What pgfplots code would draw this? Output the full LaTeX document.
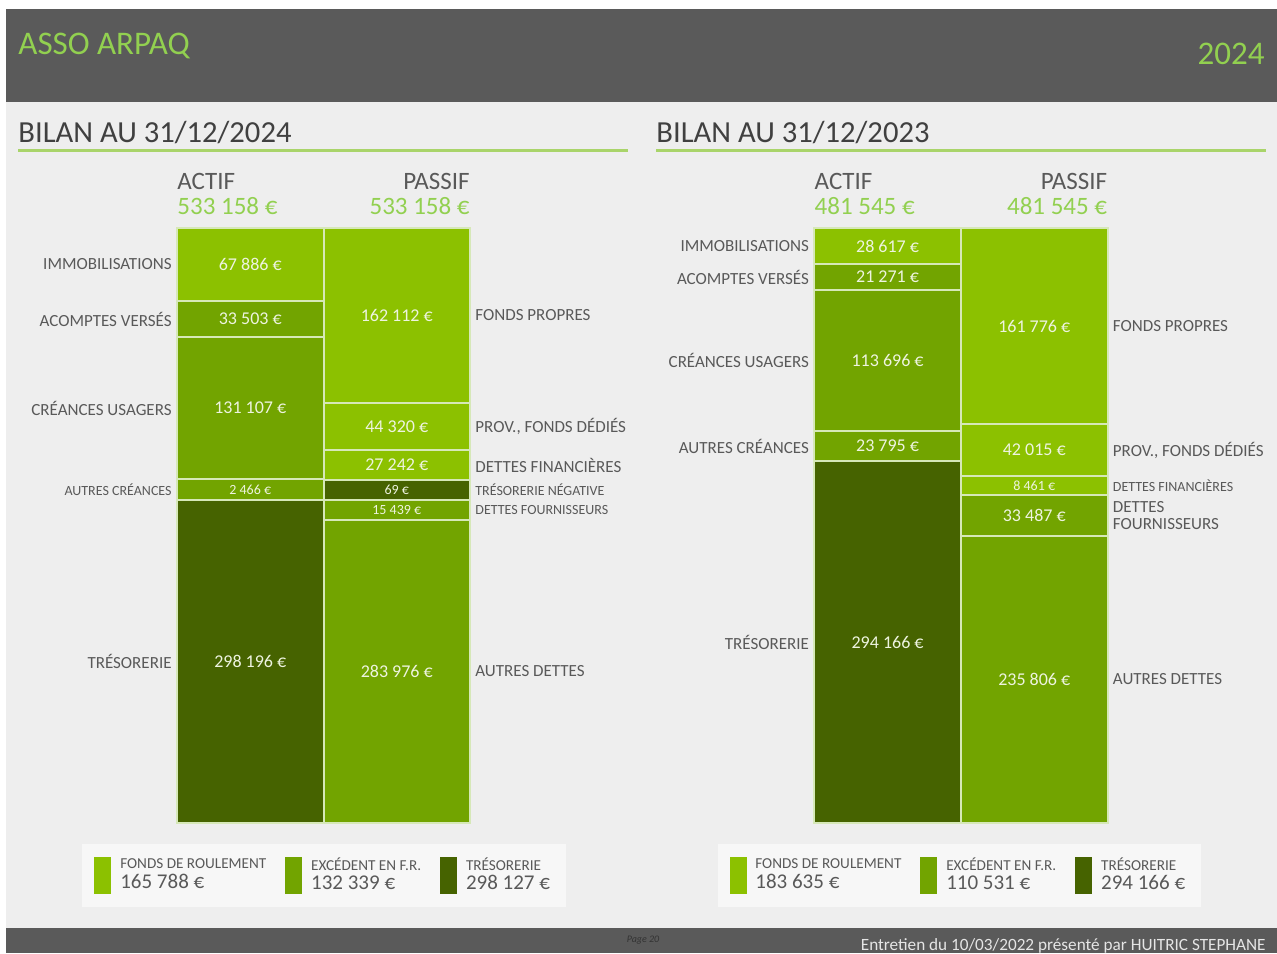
\documentclass[border=0pt]{standalone}
\usepackage{pgfplots}
\pgfplotsset{compat=1.18}
\usepackage{fontspec}
\setmainfont{Carlito}

\definecolor{vertclair}{HTML}{8CC100}
\definecolor{vertmoyen}{HTML}{72A400}
\definecolor{vertfonce}{HTML}{466300}
\definecolor{bandeau}{HTML}{5A5A5A}
\definecolor{fond}{HTML}{EEEEEE}
\definecolor{texte}{HTML}{595959}
\definecolor{titre}{HTML}{404040}
\definecolor{vertlogo}{HTML}{92D050}
\definecolor{vertligne}{HTML}{A9D46A}
\definecolor{trait}{HTML}{D6E8B8}
\definecolor{chiffre}{HTML}{EEF4E0}
\definecolor{cadre}{HTML}{F7F7F7}

\newcommand{\fs}[1]{\fontsize{#1}{#1}\selectfont}

% hauteurs = hauteurs dessinees dans l'original (les petits postes ont une hauteur minimale)
\pgfplotsset{
  colonne/.style={
    scale only axis, width=73.25pt, height=297.5pt,
    ybar stacked, bar width=1,
    xmin=-0.5, xmax=0.5, ymin=0, ymax=595, enlargelimits=false,
    xtick=\empty, axis line style={draw=none}, major tick length=0pt,
    clip=false,
    yticklabel style={font=\fs{8.5}, text=texte, inner sep=0pt},
    yticklabel shift=2.5pt,
    point meta=explicit symbolic,
    nodes near coords,
    every node near coord/.append style={font=\fs{9}, text=chiffre, anchor=center},
    title style={font=\fs{12.5}, text=texte, inner sep=0pt, yshift=0.5pt},
  },
  actif/.style={
    yticklabel style={anchor=east, align=right},
    title style={at={(0,1)}, anchor=south west, align=left},
  },
  passif/.style={
    ytick pos=right, yticklabel pos=right,
    yticklabel style={anchor=west, align=left},
    title style={at={(1,1)}, anchor=south east, align=right},
  },
  resume/.style={
    legend style={at={(#1,-0.034)}, anchor=north west, fill=cadre, draw=none,
      legend columns=3, inner xsep=6pt, inner ysep=5pt,
      /tikz/every odd column/.append style={column sep=2.5pt},
      /tikz/every even column/.append style={column sep=7.5pt},
      cells={align=left, anchor=west}, font=\fs{7.6}, text=texte},
  },
  seg/.style={draw=trait, line width=1pt, fill=#1},
  petit/.style={every node near coord/.append style={font=\fs{7}}},
}

\begin{document}
\begin{tikzpicture}
\begin{scope}[x=0.5pt, y=-0.5pt]
\useasboundingbox (0,0) rectangle (1277,953);
\fill[white] (0,0) rectangle (1277,953);
\fill[fond] (6,102) rectangle (1277,928);
\fill[bandeau] (6,9) rectangle (1277,102);
\fill[bandeau] (6,928) rectangle (1277,953);
\node[anchor=west, inner sep=0pt, text=vertlogo, font=\fs{16.5}] at (18,46) {ASSO ARPAQ};
\node[anchor=east, inner sep=0pt, text=vertlogo, font=\fs{16.5}] at (1265,54) {2024};
\node[anchor=west, inner sep=0pt, text=titre, font=\fs{15.3}] at (18,133) {BILAN AU 31/12/2024};
\node[anchor=west, inner sep=0pt, text=titre, font=\fs{15.3}] at (656,133) {BILAN AU 31/12/2023};
\draw[vertligne, line width=1.5pt] (18,150) -- (628,150);
\draw[vertligne, line width=1.5pt] (656,150) -- (1266,150);
\node[text=black!80, font=\itshape\fs{5}] at (643,940) {Page 20};
\node[anchor=east, inner sep=0pt, text=black!10, font=\fs{8.6}] at (1266,946)
  {Entretien du 10/03/2022 présenté par HUITRIC STEPHANE};
\end{scope}

% ---- bilan 2024, actif
\begin{axis}[colonne, actif, resume=-0.648, at={(88.5pt,-114pt)}, anchor=north west,
  ytick={161.5,333.5,415,504,558.5},
  yticklabels={TRÉSORERIE,{\fs{7}AUTRES CRÉANCES},CRÉANCES USAGERS,ACOMPTES VERSÉS,IMMOBILISATIONS},
  title={ACTIF\\\textcolor{vertlogo}{533 158 €}}]
  \addlegendimage{legend image code/.code={\fill[vertclair] (0pt,-9pt) rectangle (8pt,9pt);}}
  \addlegendentry{FONDS DE ROULEMENT\\[2pt]{\fs{10.5}165 788 €}}
  \addlegendimage{legend image code/.code={\fill[vertmoyen] (0pt,-9pt) rectangle (8pt,9pt);}}
  \addlegendentry{EXCÉDENT EN F.R.\\[2pt]{\fs{10.5}132 339 €}}
  \addlegendimage{legend image code/.code={\fill[vertfonce] (0pt,-9pt) rectangle (8pt,9pt);}}
  \addlegendentry{TRÉSORERIE\\[2pt]{\fs{10.5}298 127 €}}
  \addplot[seg=vertfonce] coordinates {(0,323) [298 196 €]};
  \addplot[seg=vertmoyen, petit] coordinates {(0,21) [2 466 €]};
  \addplot[seg=vertmoyen] coordinates {(0,142) [131 107 €]};
  \addplot[seg=vertmoyen] coordinates {(0,36) [33 503 €]};
  \addplot[seg=vertclair] coordinates {(0,73) [67 886 €]};
\end{axis}

% ---- bilan 2024, passif
\begin{axis}[colonne, passif, at={(161.75pt,-114pt)}, anchor=north west,
  ytick={151.5,313,333,358,396.5,507.5},
  yticklabels={AUTRES DETTES,{\fs{7}DETTES FOURNISSEURS},{\fs{7}TRÉSORERIE NÉGATIVE},DETTES FINANCIÈRES,{PROV., FONDS DÉDIÉS},FONDS PROPRES},
  title={PASSIF\\\textcolor{vertlogo}{533 158 €}}]
  \addplot[seg=vertmoyen] coordinates {(0,303) [283 976 €]};
  \addplot[seg=vertmoyen, petit] coordinates {(0,20) [15 439 €]};
  \addplot[seg=vertfonce, petit] coordinates {(0,20) [69 €]};
  \addplot[seg=vertclair] coordinates {(0,30) [27 242 €]};
  \addplot[seg=vertclair] coordinates {(0,47) [44 320 €]};
  \addplot[seg=vertclair] coordinates {(0,175) [162 112 €]};
\end{axis}

% ---- bilan 2023, actif
\begin{axis}[colonne, actif, resume=-0.663, at={(407.15pt,-114pt)}, anchor=north west,
  ytick={181,377,462.5,546,577},
  yticklabels={TRÉSORERIE,AUTRES CRÉANCES,CRÉANCES USAGERS,ACOMPTES VERSÉS,IMMOBILISATIONS},
  title={ACTIF\\\textcolor{vertlogo}{481 545 €}}]
  \addlegendimage{legend image code/.code={\fill[vertclair] (0pt,-9pt) rectangle (8pt,9pt);}}
  \addlegendentry{FONDS DE ROULEMENT\\[2pt]{\fs{10.5}183 635 €}}
  \addlegendimage{legend image code/.code={\fill[vertmoyen] (0pt,-9pt) rectangle (8pt,9pt);}}
  \addlegendentry{EXCÉDENT EN F.R.\\[2pt]{\fs{10.5}110 531 €}}
  \addlegendimage{legend image code/.code={\fill[vertfonce] (0pt,-9pt) rectangle (8pt,9pt);}}
  \addlegendentry{TRÉSORERIE\\[2pt]{\fs{10.5}294 166 €}}
  \addplot[seg=vertfonce] coordinates {(0,362) [294 166 €]};
  \addplot[seg=vertmoyen] coordinates {(0,30) [23 795 €]};
  \addplot[seg=vertmoyen] coordinates {(0,141) [113 696 €]};
  \addplot[seg=vertmoyen] coordinates {(0,26) [21 271 €]};
  \addplot[seg=vertclair] coordinates {(0,36) [28 617 €]};
\end{axis}

% ---- bilan 2023, passif
\begin{axis}[colonne, passif, at={(480.5pt,-114pt)}, anchor=north west,
  ytick={143.5,307.5,337.5,373,497},
  yticklabels={AUTRES DETTES,{DETTES\\FOURNISSEURS},{\fs{7}DETTES FINANCIÈRES},{PROV., FONDS DÉDIÉS},FONDS PROPRES},
  title={PASSIF\\\textcolor{vertlogo}{481 545 €}}]
  \addplot[seg=vertmoyen] coordinates {(0,287) [235 806 €]};
  \addplot[seg=vertmoyen] coordinates {(0,41) [33 487 €]};
  \addplot[seg=vertclair, petit] coordinates {(0,19) [8 461 €]};
  \addplot[seg=vertclair] coordinates {(0,52) [42 015 €]};
  \addplot[seg=vertclair] coordinates {(0,196) [161 776 €]};
\end{axis}
\end{tikzpicture}
\end{document}
